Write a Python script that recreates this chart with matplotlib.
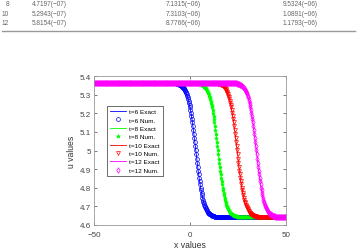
import numpy as np
import matplotlib
matplotlib.use("Agg")
import matplotlib.pyplot as plt

plt.rcParams["font.family"] = ["Liberation Sans", "DejaVu Sans"]

# table rows above the figure
table_t = ["8", "10", "12"]
table_col1 = ["4.7197(\u221207)", "5.2943(\u221207)", "5.8154(\u221207)"]
table_col2 = ["7.1315(\u221206)", "7.3103(\u221206)", "8.7766(\u221206)"]
table_col3 = ["9.5324(\u221206)", "1.0891(\u221206)", "1.1793(\u221206)"]

# x grid, step 0.25
x = np.arange(-50, 50.001, 0.25)

# kink drop (same shape for all times), 0.25 apart
drop = [5.359, 5.359, 5.358, 5.357, 5.356, 5.355, 5.354, 5.353, 5.351, 5.349,
        5.347, 5.345, 5.343, 5.340, 5.337, 5.334, 5.330, 5.325, 5.321, 5.315,
        5.309, 5.302, 5.295, 5.287, 5.278, 5.268, 5.257, 5.245, 5.232, 5.218,
        5.203, 5.187, 5.169, 5.151, 5.132, 5.112, 5.091, 5.069, 5.047, 5.025,
        5.002,
        4.979, 4.957, 4.935, 4.913, 4.892, 4.872, 4.853, 4.835, 4.818, 4.801,
        4.786, 4.772, 4.759, 4.747, 4.736, 4.726, 4.717, 4.709, 4.702, 4.695,
        4.689, 4.684, 4.679, 4.674, 4.671, 4.667, 4.664, 4.661, 4.659, 4.657,
        4.655, 4.653, 4.652, 4.650, 4.649, 4.648, 4.647, 4.646, 4.646, 4.645]
u_top = 5.36
u_bottom = 4.644

u_t6 = [u_top] * 172 + drop + [u_bottom] * 148
u_t8 = [u_top] * 218 + drop + [u_bottom] * 102
u_t10 = [u_top] * 258 + drop + [u_bottom] * 62
u_t12 = [u_top] * 298 + drop + [u_bottom] * 22

times = ["6", "8", "10", "12"]
series = [u_t6, u_t8, u_t10, u_t12]
colors = ["#0000ff", "#00ff00", "#ff0000", "#ff00ff"]
markers = ["o", "*", "v", "d"]

fig = plt.figure(figsize=(3.62, 2.51), dpi=100)
txt = "#666666"

# table fragment
ys = [4.7, 14, 23.7]
for i in range(3):
    y = 1 - ys[i] / 251
    fig.text(9 / 362, y, table_t[i], fontsize=4.7, color=txt, va="center", ha="right")
    fig.text(32 / 362, y, table_col1[i], fontsize=4.7, color=txt, va="center")
    fig.text(166 / 362, y, table_col2[i], fontsize=4.7, color=txt, va="center")
    fig.text(283 / 362, y, table_col3[i], fontsize=4.7, color=txt, va="center")
fig.add_artist(plt.Line2D([2 / 362, 355 / 362], [1 - 32 / 251, 1 - 32 / 251],
                          color="#999999", lw=1))

ax = fig.add_axes([94 / 362, 25 / 251, 192 / 362, 149 / 251])
for t, u, c, m in zip(times, series, colors, markers):
    ax.plot(x, u, color=c, lw=0.6, label="t=" + t + " Exact")
    ax.plot(x, u, linestyle="none", marker=m, markersize=2.8, color=c,
            markerfacecolor="none" if m != "*" else c, markeredgewidth=0.5,
            label="t=" + t + " Num.")

ax.set_xlim(-50, 50)
ax.set_ylim(4.6, 5.4)
ax.set_xticks([-50, 0, 50])
ax.set_yticks(np.arange(4.6, 5.41, 0.1))
ax.set_yticklabels(["4.6", "4.7", "4.8", "4.9", "5", "5.1", "5.2", "5.3", "5.4"])
ax.tick_params(direction="in", top=True, right=True, length=2, width=0.5,
               labelsize=5.8, colors="#444444")
ax.tick_params(axis="x", pad=4)
ax.tick_params(axis="y", pad=2)
for s in ax.spines.values():
    s.set_color("#999999")
    s.set_linewidth(0.6)
ax.set_xlabel("x values", fontsize=6.2, color="#333333", labelpad=2)
ax.set_ylabel("u values", fontsize=6.2, color="#333333", labelpad=3)

leg = ax.legend(loc="upper left", bbox_to_anchor=(107 / 362, 1 - 107 / 251),
                bbox_transform=fig.transFigure, fontsize=4.6, frameon=True,
                fancybox=False, edgecolor="#333333", framealpha=1,
                handlelength=2.6, handletextpad=0.4, borderpad=0.45,
                labelspacing=0.45, borderaxespad=0)
leg.get_frame().set_linewidth(0.5)

fig.savefig("out.png", dpi=100)
